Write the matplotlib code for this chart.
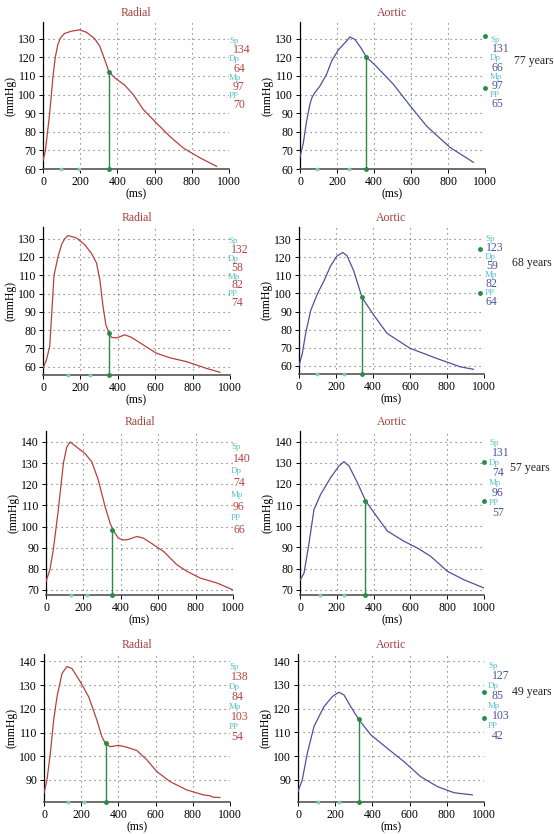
import matplotlib
matplotlib.use('Agg')
import matplotlib.pyplot as plt
from matplotlib.ticker import MultipleLocator

plt.rcParams['font.family'] = ['Liberation Serif', 'DejaVu Serif']

W, H = 554, 834

# ---- datos das curvas (tempo em ms, pressão em mmHg) ----
ages = ['77 years', '68 years', '57 years', '49 years']

radial77_t = [0, 13, 36, 54, 66, 80, 95, 115, 150, 197, 235, 278, 305, 332, 354, 386, 440, 485, 539, 610, 682, 754, 844, 934]
radial77_p = [64.5, 70, 90, 110, 120, 127, 130.5, 132.8, 134, 134.8, 133.4, 130, 126, 118.7, 112.3, 109, 105, 100, 92, 84.7, 77.5, 71.3, 66, 61.4]
aortic77_t = [0, 18, 36, 54, 65, 80, 108, 144, 171, 207, 252, 270, 297, 330, 357, 414, 505, 595, 685, 811, 937]
aortic77_p = [66.5, 74, 86, 95, 98.5, 101, 104.6, 111, 118, 124, 128.8, 131, 129.6, 125, 120.4, 115, 105.5, 94, 83, 71.6, 63.6]

radial68_t = [0, 18, 36, 59, 80, 100, 116, 134, 179, 223, 259, 286, 304, 321, 336, 352, 366, 393, 438, 473, 536, 607, 679, 768, 875, 946]
radial68_p = [59, 63.6, 71, 110, 120, 127, 130, 131.7, 130.4, 126.7, 122, 116.7, 107.5, 93, 82.9, 78.6, 76, 75.7, 77.4, 76, 71.9, 67.3, 64.8, 62.7, 59, 56.9]
aortic68_t = [0, 18, 36, 63, 99, 135, 171, 206, 237, 260, 296, 341, 404, 476, 601, 745, 871, 943]
aortic68_p = [60, 66.8, 77.9, 90.5, 99.7, 107, 115.3, 120.8, 122.7, 120.8, 112.5, 97.7, 88, 77.9, 69.6, 64, 59.4, 58]

radial57_t = [0, 21, 39, 66, 93, 111, 129, 164, 209, 245, 280, 316, 343, 361, 387, 414, 441, 486, 521, 575, 629, 700, 754, 825, 914, 1000]
radial57_p = [74, 79.6, 89, 108, 130, 137.6, 140, 137.6, 134.5, 130.6, 121.9, 109.4, 101.5, 98, 94.5, 93.6, 93.9, 95.3, 94.5, 91.4, 88.2, 81.9, 78.8, 75.6, 73.3, 70]
aortic57_t = [0, 22, 49, 76, 112, 167, 212, 239, 266, 312, 357, 402, 475, 565, 638, 710, 801, 891, 1000]
aortic57_p = [74.4, 77.9, 92, 107.9, 115, 123, 128.5, 130.5, 128.5, 120.6, 111.9, 106.4, 97.7, 92.9, 89.7, 85.8, 78.7, 74.7, 70.8]

radial49_t = [0, 16, 34, 52, 70, 97, 123, 150, 195, 240, 284, 311, 329, 356, 401, 445, 499, 553, 607, 678, 767, 857, 893, 911, 946]
radial49_p = [84.4, 90, 101.2, 115.3, 125.1, 134.9, 137.8, 137, 131.4, 125.1, 115.3, 108.3, 105.5, 104, 104.6, 103.8, 102.4, 98.5, 93.5, 89.3, 85.8, 83.7, 83.3, 82.7, 82.6]
aortic49_t = [0, 23, 50, 86, 140, 185, 220, 247, 283, 328, 391, 480, 570, 659, 749, 839, 937]
aortic49_p = [85.1, 90, 101.2, 112.5, 120.9, 125.1, 126.9, 125.8, 120.9, 115.3, 109, 103.3, 97.7, 91.4, 87.2, 84.6, 83.7]

# entalhe (linha verde) : tempo, pressão
radial_notch_t = [354, 352, 355, 331]
radial_notch_p = [112.3, 78.6, 98.5, 105.5]
aortic_notch_t = [357, 343, 351, 328]
aortic_notch_p = [120.4, 98, 112, 115.5]

# marcas verdes claras no eixo x
radial_axis_marks = [[95, 194], [134, 254], [134, 221], [127, 213]]
aortic_axis_marks = [[94, 267], [99, 242], [109, 239], [109, 220]]

# marcadores verdes escuros à direita (aórtica)
aortic_side_marks_t = [[1000, 1000], [978, 978], [1000, 1000], [1000, 1000]]
aortic_side_marks_p = [[131.6, 103.5], [124.5, 100], [130.2, 111.7], [126.8, 116]]

# Sp, Dp, Mp, PP
radial_stats = [[134, 64, 97, 70], [132, 58, 82, 74], [140, 74, 96, 66], [138, 84, 103, 54]]
aortic_stats = [[131, 66, 97, 65], [123, 59, 82, 64], [131, 74, 96, 57], [127, 85, 103, 42]]
stat_names = ['Sp', 'Dp', 'Mp', 'PP']

radial_ylim = [(60, 139), (55.4, 136.4), (67.6, 145.2), (80.7, 143.1)]
aortic_ylim = [(60, 139), (55.4, 136.8), (67.5, 145), (80.7, 143)]
yticks = [range(60, 131, 10), range(60, 131, 10), range(70, 141, 10), range(90, 141, 10)]

radial_curves = [(radial77_t, radial77_p), (radial68_t, radial68_p), (radial57_t, radial57_p), (radial49_t, radial49_p)]
aortic_curves = [(aortic77_t, aortic77_p), (aortic68_t, aortic68_p), (aortic57_t, aortic57_p), (aortic49_t, aortic49_p)]

# caixas dos eixos em pixels (esq, dir, topo, base)
radial_boxes = [(43, 229, 22, 169), (43, 230, 227, 375), (46, 233, 431, 595), (44, 230, 654, 802)]
aortic_boxes = [(300, 485, 22, 169), (299, 484, 227, 374), (300, 484, 431, 595), (298, 484, 654, 802)]

# posições dos textos à direita (x rótulo, x valor, y inicial, passo)
radial_text = [(229, 233, 41, 9.2), (228, 231, 241, 8.9), (231, 233, 447, 11.9), (229, 231, 667, 10)]
aortic_text = [(490, 492, 40, 9.2), (485, 486, 239, 9), (489, 492, 443, 10), (488, 492, 666, 10)]
age_pos = [(514, 61), (512, 263), (510, 468), (512, 692)]

radial_color = '#b5413d'
aortic_color = '#4b539c'
label_color = '#5cc2c0'
green = '#2a8a4a'
light_green = '#7dd3a0'
title_color = '#a3403c'

fig = plt.figure(figsize=(W / 100, H / 100), dpi=100)


def make_axes(box):
    l, r, t, b = box
    return fig.add_axes([l / W, 1 - b / H, (r - l) / W, (b - t) / H])


def panel(box, curve, color, ylim, ticks, notch, marks, title):
    ax = make_axes(box)
    ax.plot(curve[0], curve[1], color=color, lw=0.9, zorder=3)
    ax.plot([notch[0], notch[0]], [ylim[0], notch[1]], color=green, lw=1.0, zorder=4)
    ax.plot([notch[0], notch[0]], [ylim[0], notch[1]], 'o', color=green, ms=2.5, zorder=5, clip_on=False)
    ax.plot(marks, [ylim[0]] * len(marks), 'o', color=light_green, ms=1.8, zorder=5, clip_on=False)
    ax.set_xlim(0, 1000)
    ax.set_ylim(*ylim)
    ax.set_yticks(list(ticks))
    ax.xaxis.set_major_locator(MultipleLocator(200))
    ax.grid(True, linestyle=(0, (1, 3.5)), color='#666666', lw=0.8)
    for s in ['top', 'right']:
        ax.spines[s].set_visible(False)
    ax.spines['left'].set_linewidth(0.9)
    ax.spines['bottom'].set_color('#555555')
    ax.spines['bottom'].set_linewidth(1.2)
    ax.tick_params(labelsize=8.5, length=3, width=0.7, pad=2)
    ax.set_xlabel('(ms)', fontsize=8.5, labelpad=0)
    ax.set_ylabel('(mmHg)', fontsize=8.5, labelpad=1)
    ax.set_title(title, fontsize=8.5, color=title_color, pad=4)
    return ax


def stats_text(pos, values, vcolor):
    xl, xv, y0, step = pos
    for i, (name, v) in enumerate(zip(stat_names, values)):
        yl = y0 + 2 * i * step
        fig.text(xl / W, 1 - yl / H, name, fontsize=6.5, color=label_color, va='center', ha='left')
        fig.text(xv / W, 1 - (yl + step) / H, str(v), fontsize=8.5, color=vcolor, va='center', ha='left')


for i in range(4):
    panel(radial_boxes[i], radial_curves[i], radial_color, radial_ylim[i], yticks[i],
          (radial_notch_t[i], radial_notch_p[i]), radial_axis_marks[i], 'Radial')
    ax = panel(aortic_boxes[i], aortic_curves[i], aortic_color, aortic_ylim[i], yticks[i],
               (aortic_notch_t[i], aortic_notch_p[i]), aortic_axis_marks[i], 'Aortic')
    ax.plot(aortic_side_marks_t[i], aortic_side_marks_p[i], 'o', color=green, ms=2.5, clip_on=False, zorder=5)
    stats_text(radial_text[i], radial_stats[i], radial_color)
    stats_text(aortic_text[i], aortic_stats[i], aortic_color)
    fig.text(age_pos[i][0] / W, 1 - age_pos[i][1] / H, ages[i], fontsize=8.5, color='#222222', va='center', ha='left')

fig.savefig('out.png', dpi=100)
